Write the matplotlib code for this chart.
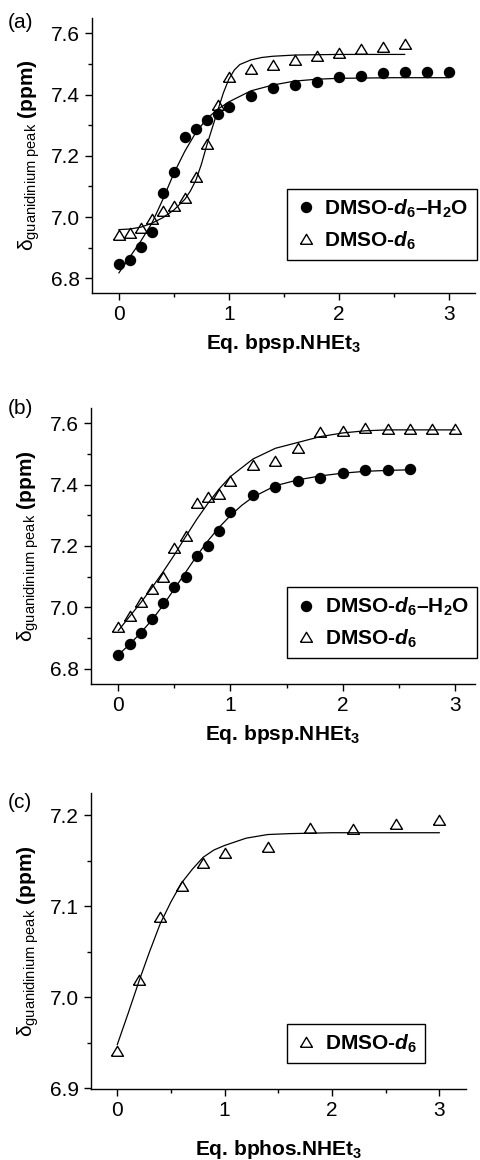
import matplotlib
matplotlib.use('Agg')
import matplotlib.pyplot as plt
from matplotlib.ticker import MultipleLocator, FormatStrFormatter

plt.rcParams['font.family'] = ['Liberation Sans', 'DejaVu Sans']
plt.rcParams['mathtext.fontset'] = 'custom'
plt.rcParams['mathtext.rm'] = 'Liberation Sans'
plt.rcParams['mathtext.it'] = 'Liberation Sans:italic'
plt.rcParams['mathtext.bf'] = 'Liberation Sans:bold'
plt.rcParams['mathtext.bfit'] = 'Liberation Sans:italic:bold'

# (a) bpsp.NHEt3 titration
a_h2o_x = [0, 0.1, 0.2, 0.3, 0.4, 0.5, 0.6, 0.7, 0.8, 0.9, 1.0,
           1.2, 1.4, 1.6, 1.8, 2.0, 2.2, 2.4, 2.6, 2.8, 3.0]
a_h2o_y = [6.847, 6.860, 6.903, 6.950, 7.078, 7.146, 7.261, 7.287, 7.316, 7.337, 7.359,
           7.396, 7.420, 7.430, 7.441, 7.457, 7.462, 7.470, 7.473, 7.473, 7.473]
a_dmso_x = [0, 0.1, 0.2, 0.3, 0.4, 0.5, 0.6, 0.7, 0.8, 0.9, 1.0,
            1.2, 1.4, 1.6, 1.8, 2.0, 2.2, 2.4, 2.6]
a_dmso_y = [6.940, 6.947, 6.965, 6.993, 7.019, 7.036, 7.063, 7.132, 7.239, 7.366, 7.457,
            7.482, 7.498, 7.513, 7.525, 7.535, 7.549, 7.556, 7.565]
# fitted curves
a_h2o_fit_x = [0, 0.1, 0.2, 0.3, 0.4, 0.5, 0.6, 0.7, 0.8, 0.9, 1.0,
               1.2, 1.4, 1.6, 1.8, 2.0, 2.5, 3.0]
a_h2o_fit_y = [6.818, 6.870, 6.922, 6.980, 7.058, 7.143, 7.215, 7.276, 7.321, 7.352, 7.376,
               7.412, 7.431, 7.444, 7.450, 7.453, 7.455, 7.455]
a_dmso_fit_x = [0, 0.1, 0.2, 0.3, 0.4, 0.5, 0.6, 0.65, 0.7, 0.75, 0.8, 0.85, 0.9, 0.95,
                1.0, 1.05, 1.1, 1.2, 1.3, 1.4, 1.6, 2.0, 2.6]
a_dmso_fit_y = [6.959, 6.961, 6.967, 6.980, 6.998, 7.023, 7.058, 7.085, 7.120, 7.172, 7.235,
                7.292, 7.349, 7.405, 7.450, 7.480, 7.498, 7.513, 7.521, 7.525, 7.529, 7.531, 7.531]

# (b) bpsp.NHEt3 titration, second run
b_h2o_x = [0, 0.1, 0.2, 0.3, 0.4, 0.5, 0.6, 0.7, 0.8, 0.9, 1.0,
           1.2, 1.4, 1.6, 1.8, 2.0, 2.2, 2.4, 2.6]
b_h2o_y = [6.845, 6.879, 6.915, 6.961, 7.015, 7.067, 7.100, 7.167, 7.200, 7.250, 7.311,
           7.365, 7.393, 7.413, 7.421, 7.437, 7.446, 7.446, 7.450]
b_dmso_x = [0, 0.1, 0.2, 0.3, 0.4, 0.5, 0.6, 0.7, 0.8, 0.9, 1.0,
            1.2, 1.4, 1.6, 1.8, 2.0, 2.2, 2.4, 2.6, 2.8, 3.0]
b_dmso_y = [6.937, 6.973, 7.016, 7.059, 7.098, 7.192, 7.233, 7.339, 7.358, 7.368, 7.410,
            7.463, 7.477, 7.518, 7.570, 7.575, 7.583, 7.582, 7.582, 7.582, 7.582]
b_h2o_fit_x = [0, 0.1, 0.2, 0.3, 0.4, 0.5, 0.6, 0.7, 0.8, 0.9, 1.0, 1.1,
               1.2, 1.4, 1.6, 1.8, 2.0, 2.2, 2.4, 2.6]
b_h2o_fit_y = [6.845, 6.879, 6.917, 6.959, 7.007, 7.060, 7.114, 7.168, 7.217, 7.261, 7.299, 7.332,
               7.359, 7.396, 7.415, 7.428, 7.437, 7.443, 7.446, 7.448]
b_dmso_fit_x = [0, 0.1, 0.2, 0.3, 0.4, 0.5, 0.6, 0.7, 0.8, 0.9, 1.0,
                1.2, 1.4, 1.6, 1.8, 2.0, 2.2, 2.4, 2.6, 2.8, 3.0]
b_dmso_fit_y = [6.924, 6.970, 7.015, 7.064, 7.116, 7.171, 7.230, 7.287, 7.339, 7.386, 7.426,
                7.483, 7.518, 7.537, 7.556, 7.568, 7.575, 7.578, 7.578, 7.578, 7.578]

# (c) bphos.NHEt3 titration
c_dmso_x = [0, 0.2, 0.4, 0.6, 0.8, 1.0, 1.4, 1.8, 2.2, 2.6, 3.0]
c_dmso_y = [6.941, 7.019, 7.088, 7.122, 7.148, 7.159, 7.165, 7.186, 7.185, 7.191, 7.195]
c_dmso_fit_x = [0, 0.1, 0.2, 0.3, 0.4, 0.5, 0.6, 0.7, 0.8, 0.9, 1.0, 1.2, 1.4, 1.6, 2.0, 3.0]
c_dmso_fit_y = [6.948, 6.982, 7.017, 7.050, 7.081, 7.105, 7.126, 7.141, 7.154, 7.162, 7.167,
                7.175, 7.179, 7.180, 7.181, 7.181]

lbl_h2o = r'DMSO-$\mathbfit{d}_{\mathbf{6}}$–H$_{\mathbf{2}}$O'
lbl_dmso = r'DMSO-$\mathbfit{d}_{\mathbf{6}}$'
ylab = r'$\mathrm{\delta}_{\mathrm{guanidinium\ peak}}$ (ppm)'

fig = plt.figure(figsize=(4.8, 11.6), dpi=100)
ax_a = fig.add_axes([0.191, 0.7474, 0.7985, 0.2371])
ax_b = fig.add_axes([0.189, 0.4103, 0.8006, 0.2379])
ax_c = fig.add_axes([0.189, 0.0612, 0.782, 0.2554])


def style(ax, xlim, ylim, ymaj, ymin, xlabel, xpad=6):
    ax.set_xlim(*xlim)
    ax.set_ylim(*ylim)
    for s in ('top', 'right'):
        ax.spines[s].set_visible(False)
    for s in ('left', 'bottom'):
        ax.spines[s].set_linewidth(1.0)
    ax.xaxis.set_major_locator(MultipleLocator(1))
    ax.xaxis.set_minor_locator(MultipleLocator(0.5))
    ax.yaxis.set_major_locator(MultipleLocator(ymaj))
    ax.yaxis.set_minor_locator(MultipleLocator(ymin))
    ax.yaxis.set_major_formatter(FormatStrFormatter('%.1f'))
    ax.tick_params(which='both', direction='out', width=1.0, labelsize=15)
    ax.tick_params(which='major', length=5)
    ax.tick_params(which='minor', length=3)
    ax.set_xlabel(xlabel, fontsize=15, fontweight='bold', labelpad=xpad)
    ax.set_ylabel(ylab, fontsize=15, fontweight='bold', labelpad=6)


def legend(ax, anchor):
    leg = ax.legend(loc='lower left', bbox_to_anchor=anchor, borderaxespad=0,
                    fancybox=False, framealpha=1, edgecolor='black',
                    prop={'size': 15, 'weight': 'bold'}, handlelength=1.0,
                    handletextpad=0.4, borderpad=0.4, labelspacing=0.45)
    leg.get_frame().set_linewidth(1.0)


# open triangle, a little wider than tall
tri_marker = [(-1, -0.8), (1, -0.8), (0, 0.87), (-1, -0.8)]

circ = dict(ls='none', marker='o', ms=7.2, mfc='black', mec='black')
tri = dict(ls='none', marker=tri_marker, ms=8.6, mfc='none', mec='black', mew=1.0)
fit = dict(color='black', lw=0.9)

ax_a.plot(a_h2o_fit_x, a_h2o_fit_y, **fit)
ax_a.plot(a_dmso_fit_x, a_dmso_fit_y, **fit)
ax_a.plot(a_h2o_x, a_h2o_y, label=lbl_h2o, **circ)
ax_a.plot(a_dmso_x, a_dmso_y, label=lbl_dmso, **tri)
style(ax_a, (-0.248, 3.24), (6.752, 7.65), 0.2, 0.1, r'Eq. bpsp.NHEt$_{\mathbf{3}}$')
legend(ax_a, (0.5095, 0.12))

ax_b.plot(b_h2o_fit_x, b_h2o_fit_y, **fit)
ax_b.plot(b_dmso_fit_x, b_dmso_fit_y, **fit)
ax_b.plot(b_h2o_x, b_h2o_y, label=lbl_h2o, **circ)
ax_b.plot(b_dmso_x, b_dmso_y, label=lbl_dmso, **tri)
style(ax_b, (-0.246, 3.18), (6.75, 7.649), 0.2, 0.1, r'Eq. bpsp.NHEt$_{\mathbf{3}}$')
legend(ax_b, (0.5108, 0.094))

ax_c.plot(c_dmso_fit_x, c_dmso_fit_y, **fit)
ax_c.plot(c_dmso_x, c_dmso_y, label=lbl_dmso, **tri)
style(ax_c, (-0.248, 3.25), (6.899, 7.225), 0.1, 0.05, r'Eq. bphos.NHEt$_{\mathbf{3}}$', xpad=13)
legend(ax_c, (0.523, 0.088))

fig.text(8 / 480, 1 - 22 / 1160, '(a)', fontsize=15, va='center')
fig.text(8 / 480, 1 - 408 / 1160, '(b)', fontsize=15, va='center')
fig.text(8 / 480, 1 - 802 / 1160, '(c)', fontsize=15, va='center')

fig.savefig('out.png', dpi=100)
